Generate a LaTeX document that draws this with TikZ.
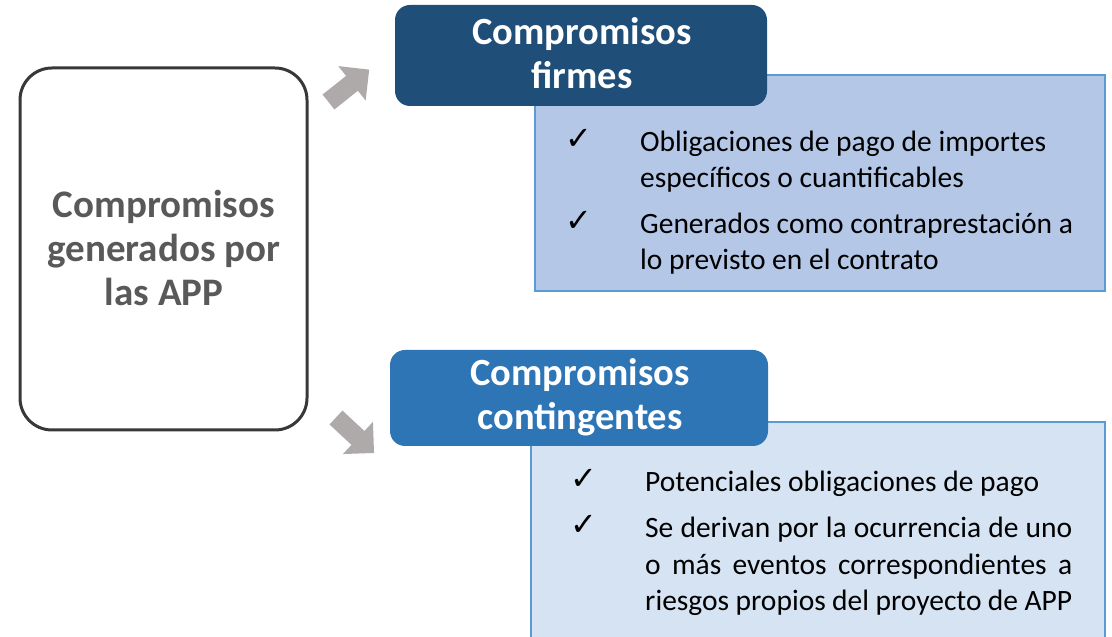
\documentclass[tikz,border=0pt]{standalone}
\usepackage{fontspec}
\setmainfont{Carlito}
\newfontfamily\checkfont{DejaVu Sans}
\hyphenpenalty=10000
\exhyphenpenalty=10000

\definecolor{firmblue}{HTML}{1F4E79}
\definecolor{contblue}{HTML}{2E75B6}
\definecolor{firmfill}{HTML}{B4C7E7}
\definecolor{contfill}{HTML}{D5E3F3}
\definecolor{boxline}{HTML}{5B9BD5}
\definecolor{textgray}{HTML}{595959}
\definecolor{arrowgray}{HTML}{AEAAAA}

\tikzset{
  headbox/.style={text=white, align=center,
    font=\fontsize{38.5}{44}\selectfont\bfseries},
  listbox/.style={draw=boxline, line width=2pt},
  checkmark/.style={inner sep=0pt, font=\checkfont\fontsize{32}{32}\selectfont},
  itemtext/.style={anchor=north west, inner sep=0pt, text width=450pt, align=flush left,
    font=\fontsize{29.5}{36.5}\selectfont}
}
\newcommand{\blockarrowpath}{(0,-9.5) -- (30,-9.5) -- (30,-22) -- (52,0) -- (30,22) -- (30,9.5) -- (0,9.5) -- cycle}

\begin{document}
\begin{tikzpicture}[x=1pt,y=1pt]
  \useasboundingbox (0,0) rectangle (1112,637);

  % left box
  \draw[line width=3pt, draw=black!78, rounded corners=32pt] (20,569) rectangle (307,207);
  \node[align=center, text=textgray, font=\fontsize{39}{44}\selectfont\bfseries] (app) at (164,389)
    {Compromisos\\generados por\\las APP};

  % arrows
  \fill[arrowgray, shift={(328.5,535)}, rotate=38.5] \blockarrowpath;
  \fill[arrowgray, shift={(336,219.5)}, rotate=-43] \blockarrowpath;

  % firm commitments
  \fill[firmfill] (535,562) rectangle (1105,346);
  \draw[listbox] (535,562) rectangle (1105,346);
  \fill[firmblue, rounded corners=15pt] (395,632) rectangle (767,531);
  \node[headbox] (firm) at (582,584) {Compromisos\\firmes};

  \node[checkmark] at (579,498) {✓};
  \node[itemtext] (f1) at (640,506.5) {Obligaciones de pago de importes específicos o cuantificables};
  \node[checkmark] at (579,416) {✓};
  \node[itemtext] (f2) at (640,424.5) {Generados como contraprestación a lo previsto en el contrato};

  % contingent commitments
  \fill[contfill] (531,215) rectangle (1105,-5);
  \draw[listbox] (531,215) rectangle (1105,-5);
  \fill[contblue, rounded corners=15pt] (390,287) rectangle (768,191);
  \node[headbox] (cont) at (580,240) {Compromisos\\contingentes};

  \node[checkmark] at (584,158) {✓};
  \node[itemtext] (c1) at (645,166) {Potenciales obligaciones de pago};
  \node[checkmark] at (584,112) {✓};
  \node[itemtext, text width=427pt, align=justify] (c2) at (645,120) {Se derivan por la ocurrencia de uno o más eventos correspondientes a riesgos propios del proyecto de APP};
\end{tikzpicture}
\end{document}
